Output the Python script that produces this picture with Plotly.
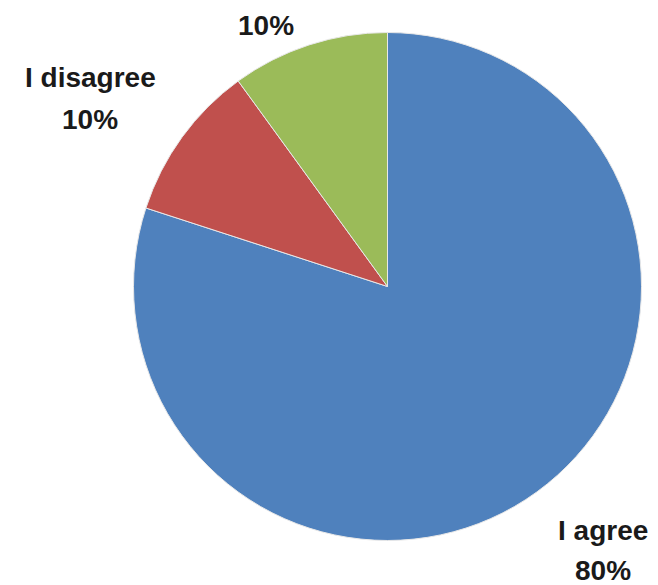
import plotly.graph_objects as go

labels = ["I agree", "I disagree", "Neutral"]
values = [80, 10, 10]
colors = ["#4F81BD", "#C0504D", "#9BBB59"]
show_name = [True, True, False]

W, H = 658, 585
OFF = 8  # page body margin offset
total = sum(values)
pcts = [f"{round(v / total * 100)}%" for v in values]

def px(x):
    return (x - OFF) / W

def py(y):
    return 1 - (y - OFF) / H

fig = go.Figure(go.Pie(
    labels=labels, values=values, sort=False, direction="clockwise", rotation=0,
    marker=dict(colors=colors, line=dict(color="#e8e8e8", width=1)),
    textinfo="none", hoverinfo="label+percent", showlegend=False,
    domain=dict(x=[px(133.5), px(641.5)], y=[py(540.5), py(32.5)]),
))

# label placement (pixel centres of name line and percent line)
pos = [((603, 530), (603, 570)), ((90, 77), (90, 120)), ((266, -18), (266, 25))]
font = dict(family="Liberation Sans, Arial, sans-serif", size=28, color="#1a1a1a")
for i in range(len(labels)):
    (nx, ny), (qx, qy) = pos[i]
    if show_name[i]:
        fig.add_annotation(x=px(nx), y=py(ny), xref="paper", yref="paper",
                           text=f"<b>{labels[i]}</b>", showarrow=False,
                           xanchor="center", yanchor="middle", font=font)
    fig.add_annotation(x=px(qx), y=py(qy), xref="paper", yref="paper",
                       text=f"<b>{pcts[i]}</b>", showarrow=False,
                       xanchor="center", yanchor="middle", font=font)

fig.update_layout(width=W, height=H, margin=dict(l=0, r=0, t=0, b=0),
                  paper_bgcolor="white", plot_bgcolor="white")
fig.write_html("out.html")
